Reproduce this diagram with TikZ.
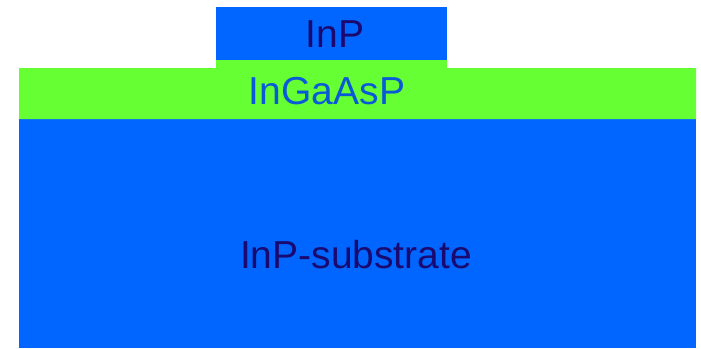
\documentclass[tikz,border=0pt]{standalone}
\usepackage{fontspec}
\setmainfont{Liberation Sans}
\definecolor{inpblue}{HTML}{0066FF}
\definecolor{quatgreen}{HTML}{66FF33}
\definecolor{navy}{HTML}{1A0A70}
\definecolor{labelblue}{HTML}{0A5AD8}
\begin{document}
\begin{tikzpicture}[x=1pt,y=-1pt,
  lbl/.style={anchor=base,inner sep=0pt,font=\fontsize{39}{42}\selectfont}]
\useasboundingbox (0,0) rectangle (701,348);
\fill[white] (0,0) rectangle (701,348);
% substrate
\fill[inpblue] (19,119) rectangle (696,348);
% InGaAsP layer with bump under the InP mesa
\fill[quatgreen] (19,119) -- (19,68) -- (216,68) -- (216,60) -- (447,60) -- (447,68) -- (696,68) -- (696,119) -- cycle;
% InP mesa
\fill[inpblue] (216,7) rectangle (447,60);
\node[lbl,text=navy] (inp) at (335,47) {InP};
\node[lbl,text=labelblue] (quat) at (327,104) {InGaAsP};
\node[lbl,text=navy] (sub) at (356,268) {InP-substrate};
\end{tikzpicture}
\end{document}
